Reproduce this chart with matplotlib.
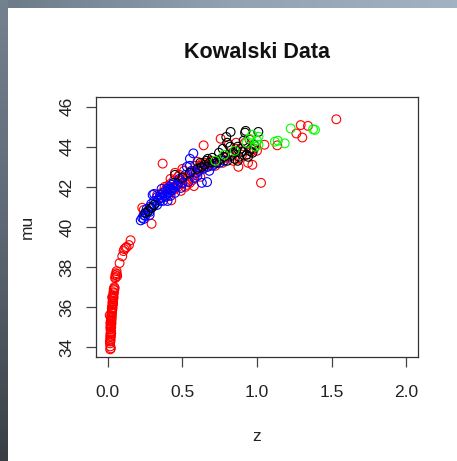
import numpy as np
import matplotlib
matplotlib.use("Agg")
import matplotlib.pyplot as plt
from matplotlib.colors import LinearSegmentedColormap

plt.rcParams['font.family'] = ['Liberation Sans', 'DejaVu Sans']

# ---- data (z, mu) ----
red_z = [0.015, 0.016, 0.014, 0.017, 0.018, 0.015, 0.020, 0.016, 0.019, 0.021,
         0.017, 0.022, 0.018, 0.020, 0.023, 0.016, 0.024, 0.019, 0.021, 0.025,
         0.020, 0.023, 0.026, 0.022, 0.027, 0.024, 0.028, 0.030, 0.026, 0.031,
         0.029, 0.033, 0.030, 0.034, 0.036, 0.032, 0.038, 0.035, 0.040, 0.037,
         0.042, 0.039, 0.045, 0.043, 0.048, 0.052, 0.050, 0.055, 0.060, 0.078,
         0.096, 0.105, 0.110, 0.119, 0.125, 0.141, 0.152, 0.012, 0.017, 0.013,
         0.020, 0.022, 0.062, 0.058, 0.028, 0.034,
         0.230, 0.240, 0.293, 0.350, 0.367, 0.380, 0.400, 0.410, 0.420, 0.425,
         0.430, 0.440, 0.450, 0.450, 0.460, 0.470, 0.480, 0.490, 0.500, 0.500,
         0.510, 0.520, 0.530, 0.540, 0.550, 0.560, 0.577, 0.580, 0.590, 0.600,
         0.610, 0.620, 0.630, 0.640, 0.642, 0.650, 0.660, 0.680, 0.700, 0.720,
         0.740, 0.756, 0.770, 0.790, 0.810, 0.820, 0.840, 0.860, 0.875, 0.880,
         0.900, 0.920, 0.940, 0.950, 0.960, 0.969, 0.980, 1.000, 1.027, 1.050,
         1.136, 1.264, 1.293, 1.304, 1.342, 1.532, 0.470, 0.390, 0.600, 0.860,
         0.360, 0.440, 0.530, 0.570, 0.420, 0.480, 0.510, 0.330, 0.620, 0.690]
red_mu = [33.90, 34.05, 34.20, 34.30, 34.40, 34.50, 34.55, 34.65, 34.75, 34.80,
          34.90, 35.00, 35.05, 35.10, 35.15, 35.20, 35.25, 35.30, 35.35, 35.40,
          35.45, 35.50, 35.55, 35.60, 35.70, 35.75, 35.80, 35.90, 35.95, 36.00,
          36.10, 36.15, 36.25, 36.30, 36.40, 36.45, 36.50, 36.60, 36.70, 36.75,
          36.85, 36.90, 36.95, 37.00, 37.45, 37.50, 37.60, 37.70, 37.65, 38.20,
          38.54, 38.80, 38.90, 38.96, 39.00, 39.10, 39.34, 35.60, 35.00, 34.30,
          33.95, 34.70, 37.55, 37.80, 36.50, 36.20,
          40.96, 40.85, 40.16, 41.50, 43.16, 42.00, 42.05, 41.60, 42.15, 41.33,
          41.80, 42.30, 42.70, 41.90, 42.10, 42.00, 42.30, 41.80, 42.90, 42.15,
          42.50, 42.00, 42.30, 42.55, 42.20, 42.75, 42.04, 42.60, 43.05, 42.70,
          42.90, 42.50, 43.15, 42.95, 44.07, 43.20, 43.00, 43.10, 43.25, 43.05,
          43.30, 44.40, 43.20, 43.45, 44.10, 43.50, 43.30, 43.90, 43.00, 43.40,
          43.60, 44.20, 43.20, 44.35, 43.75, 43.10, 43.90, 43.80, 42.20, 44.10,
          44.07, 44.66, 45.08, 44.46, 45.04, 45.37, 42.50, 41.90, 43.25, 44.20,
          41.70, 42.00, 42.10, 42.35, 42.40, 42.60, 42.80, 41.60, 43.05, 43.30]

blue_z = [0.22, 0.23, 0.24, 0.25, 0.26, 0.27, 0.28, 0.28, 0.29, 0.30,
          0.30, 0.31, 0.32, 0.33, 0.33, 0.34, 0.35, 0.35, 0.36, 0.37,
          0.37, 0.38, 0.39, 0.39, 0.40, 0.40, 0.41, 0.41, 0.42, 0.42,
          0.43, 0.43, 0.44, 0.44, 0.45, 0.46, 0.47, 0.48, 0.49, 0.50,
          0.52, 0.53, 0.54, 0.55, 0.56, 0.573, 0.58, 0.59, 0.60, 0.61,
          0.62, 0.63, 0.64, 0.665, 0.67, 0.68, 0.70, 0.72, 0.75, 0.78,
          0.55, 0.40, 0.36, 0.26, 0.31, 0.24, 0.28]
blue_mu = [40.33, 40.45, 40.60, 40.55, 40.70, 40.80, 40.75, 41.00, 41.15, 41.60,
           41.00, 41.30, 41.20, 41.50, 41.10, 41.40, 41.30, 41.60, 41.45, 41.70,
           41.30, 41.55, 41.80, 41.50, 41.90, 41.65, 42.00, 41.75, 41.90, 41.55,
           42.10, 41.85, 42.20, 41.95, 41.70, 42.05, 42.15, 42.40, 41.95, 42.20,
           42.60, 43.00, 42.25, 43.05, 42.80, 43.67, 42.45, 42.70, 42.55, 42.80,
           42.95, 42.20, 42.90, 42.24, 43.00, 42.80, 43.05, 43.15, 43.20, 43.30,
           43.40, 41.30, 41.90, 40.90, 41.65, 40.40, 40.60]

black_z = [0.25, 0.27, 0.29, 0.31, 0.45, 0.50, 0.55, 0.60, 0.63, 0.65,
           0.67, 0.68, 0.70, 0.71, 0.73, 0.745, 0.76, 0.78, 0.794, 0.80,
           0.82, 0.823, 0.83, 0.84, 0.85, 0.86, 0.87, 0.88, 0.89, 0.90,
           0.91, 0.92, 0.924, 0.93, 0.94, 0.95, 0.96, 0.97, 0.98, 1.009,
           0.87, 0.80, 0.77, 0.62, 0.66]
black_mu = [40.70, 40.80, 40.95, 41.10, 42.60, 42.45, 42.70, 42.90, 43.00, 43.10,
            43.40, 43.20, 43.45, 43.25, 43.20, 43.70, 43.40, 43.50, 44.49, 43.30,
            44.00, 44.74, 43.60, 43.70, 43.40, 43.80, 44.00, 43.50, 43.90, 43.74,
            44.30, 44.70, 44.79, 43.60, 43.50, 43.80, 43.90, 43.70, 44.10, 44.74,
            43.30, 44.20, 43.90, 43.20, 43.30]

green_z = [0.968, 1.010, 1.000, 1.010, 0.930, 1.120, 1.140, 1.186, 1.226, 1.376,
           1.389, 0.990, 0.950, 0.850, 0.720, 0.780]
green_mu = [44.60, 44.50, 44.30, 44.10, 44.20, 44.25, 44.30, 44.17, 44.91, 44.87,
            44.84, 44.00, 44.40, 43.80, 43.30, 43.60]

x_ticks = [0.0, 0.5, 1.0, 1.5, 2.0]
x_tick_labels = ["0.0", "0.5", "1.0", "1.5", "2.0"]
y_ticks = [34, 36, 38, 40, 42, 44, 46]

W, H = 457, 461
fig = plt.figure(figsize=(W / 100, H / 100), dpi=100)
fig.patch.set_facecolor("white")

# window-frame strips (screenshot border)
left_ax = fig.add_axes([0, 0, 8 / W, 1])
left_cmap = LinearSegmentedColormap.from_list("l", ["#3a3f46", "#5d6874", "#74818e"])
left_ax.imshow(np.linspace(0, 1, 100)[:, None], aspect="auto", cmap=left_cmap, origin="lower")
left_ax.axis("off")
top_ax = fig.add_axes([8 / W, 1 - 8 / H, 1 - 8 / W, 8 / H])
top_cmap = LinearSegmentedColormap.from_list("t", ["#6e7c8a", "#92a2b1", "#a2b2c1"])
top_ax.imshow(np.linspace(0, 1, 100)[None, :], aspect="auto", cmap=top_cmap)
top_ax.axis("off")

ax = fig.add_axes([96 / W, 1 - 357 / H, (418 - 96) / W, (357 - 97) / H])

ms = 40
lw = 0.8
ax.scatter(red_z, red_mu, s=ms, facecolors="none", edgecolors="#ff0000", linewidths=lw)
ax.scatter(blue_z, blue_mu, s=ms, facecolors="none", edgecolors="#0000ff", linewidths=lw)
ax.scatter(black_z, black_mu, s=ms, facecolors="none", edgecolors="#000000", linewidths=lw)
ax.scatter(green_z, green_mu, s=ms, facecolors="none", edgecolors="#00ff00", linewidths=lw)

ax.set_xlim(-0.08, 2.08)
ax.set_ylim(33.52, 46.48)
ax.set_xticks(x_ticks)
ax.set_xticklabels(x_tick_labels)
ax.set_yticks(y_ticks)
ax.set_yticklabels([str(v) for v in y_ticks], rotation=90, va="center")

for s in ax.spines.values():
    s.set_color("#333333")
    s.set_linewidth(0.9)
ax.tick_params(axis="both", direction="out", length=7.5, width=0.9, color="#444444",
               labelsize=12.5, labelcolor="#222222")
ax.tick_params(axis="x", pad=13)
ax.tick_params(axis="y", pad=8)

fig.text(257 / W, 1 - 53 / H, "Kowalski Data", ha="center", va="center",
         fontsize=15.5, fontweight="bold", color="#111111")
fig.text(257 / W, 1 - 436 / H, "z", ha="center", va="center", fontsize=12.5, color="#222222")
fig.text(27 / W, 1 - 227 / H, "mu", ha="center", va="center", rotation=90,
         fontsize=12.5, color="#222222")

fig.savefig("out.png", dpi=100)
